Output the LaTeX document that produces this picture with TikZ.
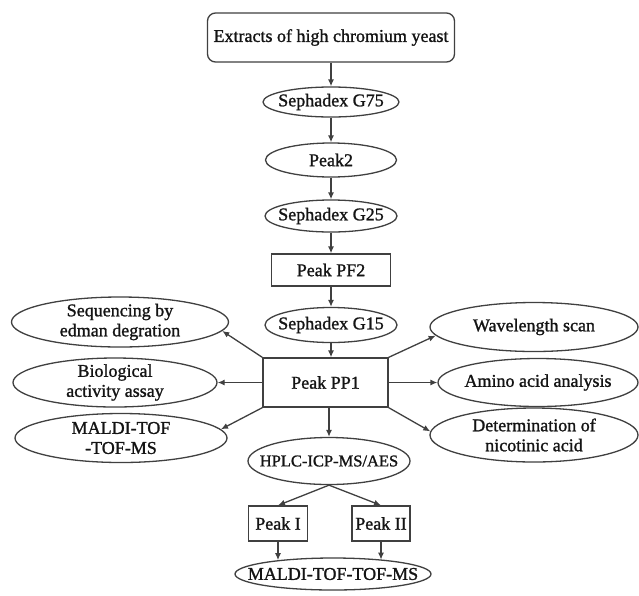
\documentclass[tikz,border=0pt]{standalone}
\usepackage{fontspec}
\setmainfont{Liberation Serif}[RawFeature={embolden=1.2}]
\usetikzlibrary{shapes.geometric,arrows.meta}
\begin{document}
\begin{tikzpicture}[x=1pt,y=-1pt,
  every node/.style={font=\fontsize{18}{20}\selectfont, text=black!92},
  ln/.style={draw=black!75, line width=1.3pt},
  ell/.style={ellipse, ln, inner sep=0pt},
  box/.style={rectangle, ln, inner sep=0pt},
  arr/.style={draw=black!75, line width=1.3pt, -{Latex[length=7pt,width=6pt]}},
  txt/.style={align=center, inner sep=0pt}
]
\useasboundingbox[fill=white] (0,0) rectangle (639,595);

% main chain
\node[box, rounded corners=8pt, minimum width=247pt, minimum height=49pt] (top) at (331,37.5) {Extracts of high chromium yeast};
\node[ell, minimum width=136pt, minimum height=30pt, label={[txt]center:Sephadex G75}] (g75) at (331,102) {};
\node[ell, minimum width=131pt, minimum height=34pt, label={[txt]center:Peak2}] (peak2) at (331,160) {};
\node[ell, minimum width=132pt, minimum height=32pt, label={[txt]center:Sephadex G25}] (g25) at (331,216) {};
\node[box, minimum width=119pt, minimum height=32pt] (pf2) at (331,270) {Peak PF2};
\node[ell, minimum width=132pt, minimum height=35pt, label={[txt]center:Sephadex G15}] (g15) at (331,325) {};
\node[box, minimum width=125pt, minimum height=49pt] (pp1) at (325.5,382.5) {Peak PP1};

% left
\node[ell, minimum width=217pt, minimum height=50pt, label={[txt]center:Sequencing by\\edman degration}] (seq) at (120,322) {};
\node[ell, minimum width=204pt, minimum height=49pt, label={[txt]center:Biological\\activity assay}] (bio) at (115,382.5) {};
\node[ell, minimum width=212pt, minimum height=49pt, label={[txt]center:MALDI-TOF\\-TOF-MS}] (mleft) at (121,438) {};

% right
\node[ell, minimum width=208pt, minimum height=49pt, label={[txt]center:Wavelength scan}] (wave) at (534,327) {};
\node[ell, minimum width=200pt, minimum height=48pt, label={[txt]center:Amino acid analysis}] (amino) at (538,382.5) {};
\node[ell, minimum width=208pt, minimum height=54pt, label={[txt]center:Determination of\\nicotinic acid}] (det) at (534,435) {};

% bottom
\node[ell, minimum width=162pt, minimum height=47pt, label={[txt,font=\fontsize{16.5}{19}\selectfont]center:HPLC-ICP-MS/AES}] (hplc) at (329,461) {};
\node[box, minimum width=59pt, minimum height=35pt] (pI) at (278,523.5) {Peak I};
\node[box, minimum width=58pt, minimum height=35pt] (pII) at (381,523.5) {Peak II};
\node[ell, minimum width=196pt, minimum height=32pt, label={[txt]center:MALDI-TOF-TOF-MS}] (mb) at (333,574) {};

% connectors
\draw[arr] (top) -- (g75);
\draw[arr] (g75) -- (peak2);
\draw[arr] (peak2) -- (g25);
\draw[arr] (g25) -- (pf2);
\draw[arr] (pf2) -- (g15);
\draw[arr] (g15.south) -- (g15.south |- pp1.north);
\draw[arr] (pp1.south -| hplc.north) -- (hplc.north);

\draw[arr] (pp1.north west) -- (seq.-5);
\draw[arr] (pp1.west) -- (bio.east);
\draw[arr] (pp1.south west) -- (mleft.5);
\draw[arr] (pp1.north east) -- (wave.185);
\draw[arr] (pp1.east) -- (amino.west);
\draw[arr] (pp1.south east) -- (det.178);

\draw[arr] (hplc.south) -- (pI.north);
\draw[arr] (hplc.south) -- (pII.north);
\draw[arr] (pI.south) -- (pI.south |- mb.166);
\draw[arr] (pII.south) -- (pII.south |- mb.16);
\end{tikzpicture}
\end{document}
